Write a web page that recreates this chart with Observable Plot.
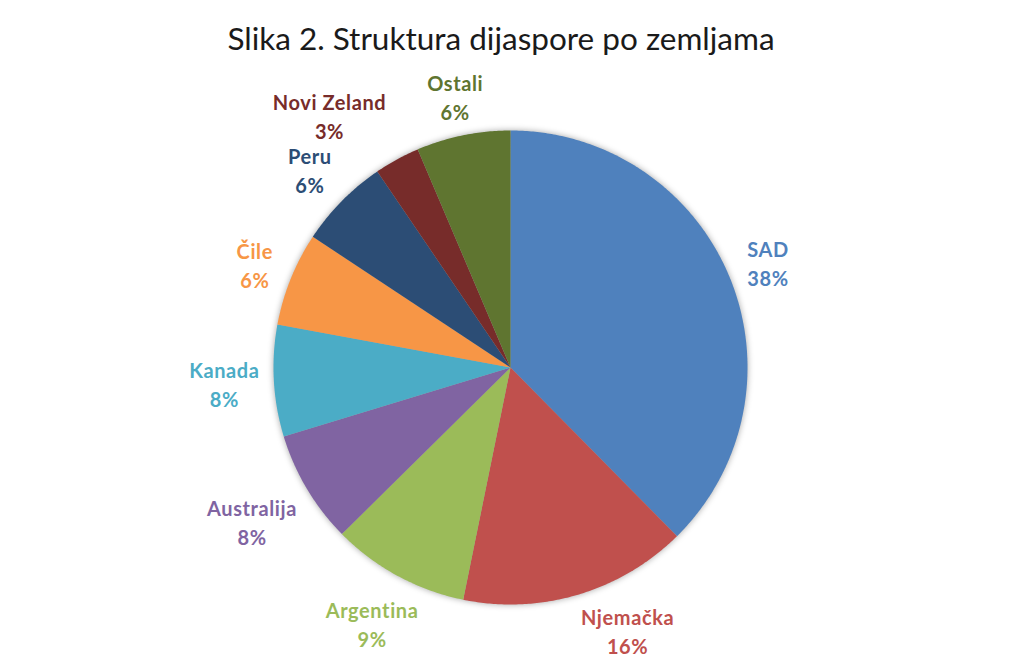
<!DOCTYPE html>
<html>
<head>
<meta charset="utf-8">
<script src="https://cdn.jsdelivr.net/npm/d3@7"></script>
<script src="https://cdn.jsdelivr.net/npm/@observablehq/plot@0.6"></script>
<style>
  html, body { margin: 0; padding: 0; background: #fff; }
  #title { height: 60px; line-height: 76px; text-align: center; font-family: Lato, "Open Sans", sans-serif;
           font-size: 31.5px; color: #1a1a1a; white-space: nowrap; padding-right: 22px; }
  #chart svg { display: block; }
</style>
</head>
<body>
<div id="title">Slika 2. Struktura dijaspore po zemljama</div>
<div id="chart"></div>
<script>
// ---- data ----
const countries = ["SAD", "Njemačka", "Argentina", "Australija", "Kanada", "Čile", "Peru", "Novi Zeland", "Ostali"];
const shares = [37.6, 15.6, 9.4, 7.7, 7.6, 6.4, 6.2, 3.1, 6.4];
const percentLabels = ["38%", "16%", "9%", "8%", "8%", "6%", "6%", "3%", "6%"];
const sliceColors = ["#4F81BD", "#C0504D", "#9BBB59", "#8064A2", "#4BACC6", "#F79646", "#2C4D75", "#772C2A", "#5F7530"];

// ---- layout ----
const W = 1024, H = 610;
const cx = 510, cy = 307, R = 237;
const fontSize = 20, letterSpacing = 0.6, lineH = 29, gap = 14;
const halfH = 22;                 // half height of a two-line label box
const bottomLimit = H - 18;       // label boxes stay above this line
const font = `bold ${fontSize}px Lato`;

const arcs = d3.pie().sort(null).value(d => d)(shares);

// slice polygons (unit circle coordinates, y up)
const slicePts = [];
arcs.forEach((a, i) => {
  const n = Math.max(4, Math.ceil((a.endAngle - a.startAngle) / (Math.PI / 360)));
  slicePts.push({name: countries[i], x: 0, y: 0});
  for (let k = 0; k <= n; k++) {
    const t = a.startAngle + (a.endAngle - a.startAngle) * k / n;
    slicePts.push({name: countries[i], x: Math.sin(t), y: Math.cos(t)});
  }
  slicePts.push({name: countries[i], x: 0, y: 0});
});

// label placement: outside end, box clear of the circle, kept inside the frame
const ctx = document.createElement("canvas").getContext("2d");
ctx.font = font;
const textW = s => ctx.measureText(s).width + letterSpacing * s.length;
function placeBox(theta, hw, hh) {
  const ux = Math.sin(theta), uy = -Math.cos(theta);
  let lo = 0, hi = 600;
  for (let it = 0; it < 50; it++) {
    const t = (lo + hi) / 2;
    const px = Math.max(0, Math.abs(ux * t) - hw), py = Math.max(0, Math.abs(uy * t) - hh);
    if (Math.hypot(px, py) < R + gap) lo = t; else hi = t;
  }
  return {x: cx + ux * hi, y: cy + uy * hi};
}
const labels = arcs.map((a, i) => {
  const w = Math.max(textW(countries[i]), textW(percentLabels[i]));
  const hw = w / 2, hh = halfH;
  let theta = (a.startAngle + a.endAngle) / 2;
  let c = placeBox(theta, hw, hh);
  // slide along the circle away from the bottom edge if the box would leave the frame
  const dir = Math.sin(theta) >= 0 ? -1 : 1;
  let steps = 0;
  while (c.y + hh > bottomLimit && steps < 400) {
    theta += dir * 0.002; c = placeBox(theta, hw, hh); steps++;
  }
  return {name: countries[i], hw, hh, theta, c};
});
// neighbour spacing: move the smaller slice's label sideways, away from a crowding neighbour
const pad = 40;
const crowded = (p, q) => Math.abs(p.c.x - q.c.x) < p.hw + q.hw + pad && Math.abs(p.c.y - q.c.y) < p.hh + q.hh + 4;
for (let i = 0; i < labels.length; i++) {
  const j = (i + 1) % labels.length;
  const A = labels[i], B = labels[j];
  if (!crowded(A, B)) continue;
  const small = shares[i] <= shares[j] ? A : B, other = small === A ? B : A;
  const dir = small.c.x < other.c.x ? -1 : 1;
  let steps = 0;
  while (crowded(A, B) && steps < 300) { small.c.x += dir; small.c.y += 0.15; steps++; }
}
const labelData = labels.map((l, i) => ({
  name: l.name,
  text: `${countries[i]}\n${percentLabels[i]}`,
  x: (l.c.x - cx) / R,
  y: (cy - l.c.y) / R
}));

const chart = Plot.plot({
  width: W,
  height: H,
  margin: 0,
  x: {domain: [-cx / R, (W - cx) / R], axis: null},
  y: {domain: [-(H - cy) / R, cy / R], axis: null},
  color: {domain: countries, range: sliceColors},
  style: {fontFamily: "Lato, sans-serif"},
  marks: [
    Plot.line(slicePts, {x: "x", y: "y", z: "name", fill: "name", stroke: "none", curve: "linear"}),
    Plot.text(labelData, {x: "x", y: "y", text: "text", fill: "name", fontSize: fontSize, fontWeight: "bold", lineHeight: lineH / fontSize})
  ]
});
document.getElementById("chart").appendChild(chart);
const sliceGroup = chart.querySelector('g[aria-label="line"]');
if (sliceGroup) sliceGroup.style.filter = "drop-shadow(0px 0px 3px rgba(0,0,0,0.35))";
const textGroup = chart.querySelector('g[aria-label="text"]');
if (textGroup) textGroup.style.letterSpacing = letterSpacing + "px";
</script>
</body>
</html>
